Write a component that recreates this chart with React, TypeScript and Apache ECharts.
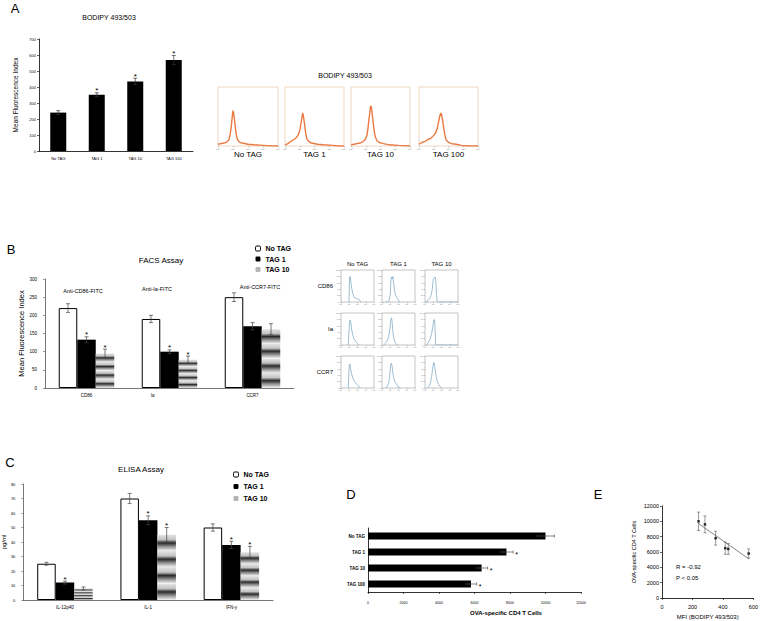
import React, { useEffect, useRef } from 'react';
import * as echarts from 'echarts';

const FONT = '"Liberation Sans", Arial, Helvetica, sans-serif';

// ---------- Panel A ----------
const aCategories = ['No TAG', 'TAG 1', 'TAG 10', 'TAG 100'];
const aValues = [240, 352, 435, 569];
const aErrors = [12, 12, 20, 28];
const aSig = [0, 1, 1, 1];

const aHistLabels = ['No TAG', 'TAG 1', 'TAG 10', 'TAG 100'];
const aHistNoTag = [[0, 3], [5, 4], [10, 5], [15, 7], [18, 10], [20, 18], [22, 32], [24, 52], [25, 60], [26, 56], [28, 40], [30, 22], [32, 12], [35, 7], [40, 5], [50, 3], [60, 2], [75, 1], [90, 0], [100, 0]];
const aHistTag1 = [[0, 2], [5, 4], [10, 8], [15, 11], [19, 14], [22, 18], [25, 26], [27, 38], [29, 50], [30, 56], [31, 52], [33, 38], [35, 22], [37, 12], [40, 8], [45, 5], [55, 3], [65, 2], [80, 1], [90, 0], [100, 0]];
const aHistTag10 = [[0, 2], [5, 3], [10, 4], [15, 5], [20, 7], [24, 11], [27, 18], [29, 32], [31, 50], [33, 66], [34, 68], [35, 62], [37, 45], [39, 28], [41, 16], [44, 9], [48, 6], [55, 4], [65, 2], [80, 1], [100, 0]];
const aHistTag100 = [[0, 3], [5, 6], [10, 8], [15, 11], [20, 13], [25, 18], [28, 22], [31, 30], [33, 40], [35, 50], [37, 56], [38, 54], [40, 44], [42, 30], [44, 18], [46, 10], [50, 6], [55, 4], [63, 3], [72, 1], [85, 0], [100, 0]];
const histTickLabels = ['10⁰', '10¹', '10²', '10³', '10⁴'];

// ---------- Panel B ----------
const bCategories = ['CD86', 'Ia', 'CCR7'];
const bSubtitles = ['Anti-CD86-FITC', 'Anti-Ia-FITC', 'Anti-CCR7-FITC'];
const bNoTag = [220, 190, 250];
const bTag1 = [133, 100, 170];
const bTag10 = [95, 78, 162];
const bNoTagErr = [12, 10, 12];
const bTag1Err = [8, 5, 10];
const bTag10Err = [12, 10, 15];
const bNoTagSig = [0, 0, 0];
const bTag1Sig = [1, 1, 0];
const bTag10Sig = [1, 1, 0];

const bHistCols = ['No TAG', 'TAG 1', 'TAG 10'];
const bHistRows = ['CD86', 'Ia', 'CCR7'];
const bHistCD86 = [
  [[24, 0], [25, 0], [26, 78], [28, 80], [30, 60], [33, 40], [36, 25], [40, 15], [45, 12], [50, 10], [55, 8], [58, 3], [60, 0]],
  [[12, 0], [18, 2], [22, 5], [25, 25], [27, 70], [29, 78], [31, 72], [33, 80], [35, 60], [38, 35], [42, 20], [46, 12], [50, 5], [55, 0]],
  [[5, 0], [10, 8], [14, 10], [18, 20], [22, 40], [25, 70], [28, 75], [31, 78], [33, 60], [35, 20], [37, 2], [40, 0], [100, 0]],
];
const bHistIa = [
  [[22, 0], [24, 0], [25, 60], [27, 78], [29, 75], [32, 50], [36, 30], [40, 18], [45, 10], [50, 5], [55, 0]],
  [[5, 0], [10, 5], [15, 12], [20, 25], [24, 50], [27, 80], [29, 85], [31, 70], [33, 40], [36, 20], [40, 8], [45, 0]],
  [[5, 0], [10, 8], [15, 18], [20, 35], [24, 60], [27, 80], [29, 78], [31, 40], [32, 5], [33, 0], [100, 0]],
];
const bHistCCR7 = [
  [[22, 0], [24, 0], [25, 72], [27, 75], [29, 60], [32, 45], [36, 30], [40, 22], [45, 15], [50, 10], [55, 5], [58, 0]],
  [[12, 0], [16, 5], [20, 15], [23, 35], [26, 70], [28, 78], [30, 72], [33, 45], [36, 30], [40, 18], [45, 10], [50, 3], [55, 0]],
  [[8, 0], [12, 5], [16, 15], [20, 35], [23, 60], [26, 80], [28, 78], [31, 55], [34, 35], [37, 22], [41, 12], [45, 5], [50, 0]],
];
const bHistYLabels = ['0', '20', '40', '60', '80', '100'];

// ---------- Panel C ----------
const cCategories = ['IL-12p40', 'IL-1', 'IFN-γ'];
const cNoTag = [25, 70, 50];
const cTag1 = [12, 55, 38];
const cTag10 = [8, 45, 33];
const cNoTagErr = [1, 3.5, 2.5];
const cTag1Err = [1, 3, 2.5];
const cTag10Err = [1, 5, 4];
const cNoTagSig = [0, 0, 0];
const cTag1Sig = [1, 1, 1];
const cTag10Sig = [0, 1, 1];

// ---------- Panel D ----------
const dCategories = ['No TAG', 'TAG 1', 'TAG 10', 'TAG 100'];
const dValues = [10000, 7800, 6400, 5800];
const dErrors = [500, 380, 340, 320];
const dSig = [0, 1, 1, 1];

// ---------- Panel E ----------
const eMFI = [240, 282, 352, 415, 435, 569];
const eOVA = [10000, 9600, 7800, 6500, 6400, 5800];
const eErrors = [1200, 1100, 900, 800, 700, 600];
const eFitX = [240, 570];
const eFitY = [9700, 5100];

function stripeGradient() {
  const band: [number, string][] = [[0, '#e4e4e4'], [0.3, '#c2c2c2'], [0.5, '#2a2a2a'], [0.72, '#8e8e8e'], [1, '#f6f6f6']];
  const n = 4;
  const stops: any[] = [];
  for (let i = 0; i < n; i++) {
    for (const [o, c] of band) stops.push({ offset: Math.min(1, (i + o) / n), color: c });
  }
  return new echarts.graphic.LinearGradient(0, 0, 0, 1, stops);
}

const plain = (v: number) => String(v);

function vErr(gridIdx: number, values: number[], errors: number[], sig: number[], barIndex: number, nBars: number, barW: number, color: string) {
  return {
    type: 'custom',
    xAxisIndex: gridIdx,
    yAxisIndex: gridIdx,
    z: 5,
    silent: true,
    data: values.map((v, i) => [i, v, errors[i], sig[i]]),
    renderItem: (params: any, api: any) => {
      const i = api.value(0), v = api.value(1), e = api.value(2), s = api.value(3);
      const base = api.coord([i, v]);
      const x = base[0] + (barIndex - (nBars - 1) / 2) * barW;
      const top = api.coord([i, v + e])[1];
      const bot = api.coord([i, v - e])[1];
      const cap = 2;
      const st = { stroke: color, lineWidth: 0.7 };
      const children: any[] = [
        { type: 'line', shape: { x1: x, y1: top, x2: x, y2: bot }, style: st },
        { type: 'line', shape: { x1: x - cap, y1: top, x2: x + cap, y2: top }, style: st },
        { type: 'line', shape: { x1: x - cap, y1: bot, x2: x + cap, y2: bot }, style: st },
      ];
      if (s) children.push({ type: 'text', x, y: top + 2, style: { text: '*', align: 'center', verticalAlign: 'bottom', fontSize: 8, fontFamily: FONT, fill: '#000' } });
      return { type: 'group', children };
    },
  };
}

function buildOption() {
  const grids: any[] = [];
  const xAxes: any[] = [];
  const yAxes: any[] = [];
  const series: any[] = [];
  const graphics: any[] = [];
  const txt = (text: string, x: number, y: number, size: number, align = 'center', weight = 'normal') =>
    graphics.push({ type: 'text', x, y, silent: true, style: { text, fontSize: size, fontFamily: FONT, fill: '#000', align, verticalAlign: 'middle', fontWeight: weight } });

  const blackAxis = { lineStyle: { color: '#000', width: 0.8 } };
  const grayAxis = { lineStyle: { color: '#555', width: 0.8 } };

  // ---- Panel A bar (grid 0)
  grids.push({ left: 39, top: 39, width: 154, height: 112 });
  xAxes.push({ gridIndex: 0, type: 'category', data: aCategories, axisLine: blackAxis, axisTick: { length: 2, lineStyle: { color: '#000', width: 0.6 } }, axisLabel: { fontSize: 4, margin: 5, color: '#000' } });
  yAxes.push({
    gridIndex: 0, type: 'value', min: 0, max: 700, interval: 100, name: 'Mean Fluorescence Index', nameLocation: 'middle', nameGap: 20,
    nameTextStyle: { fontSize: 6.5, color: '#000' }, axisLine: { show: true, ...blackAxis }, axisTick: { show: true, length: 2, lineStyle: { color: '#000', width: 0.6 } },
    axisLabel: { fontSize: 4, margin: 3, color: '#000', formatter: plain }, splitLine: { show: false },
  });
  series.push({ type: 'bar', xAxisIndex: 0, yAxisIndex: 0, data: aValues, barWidth: 16, itemStyle: { color: '#000' } });
  series.push(vErr(0, aValues, aErrors, aSig, 0, 1, 16, '#333'));

  // ---- Panel A histograms (grids 1-4)
  const aBoxes = [[218, 87, 60, 59], [285, 87, 59, 59], [351, 87, 59, 59], [419, 87, 59, 59]];
  const aHists = [aHistNoTag, aHistTag1, aHistTag10, aHistTag100];
  aBoxes.forEach((b, k) => {
    const gi = grids.length;
    grids.push({ left: b[0], top: b[1], width: b[2], height: b[3], show: true, borderColor: '#efd6bf', borderWidth: 1 });
    xAxes.push({
      gridIndex: gi, type: 'value', min: 0, max: 100, interval: 25, axisLine: { show: false }, splitLine: { show: false },
      axisTick: { show: true, length: 1.5, lineStyle: { color: '#999', width: 0.5 } },
      axisLabel: { fontSize: 2.5, margin: 2, color: '#666', formatter: (v: number) => histTickLabels[Math.round(v / 25)] },
    });
    yAxes.push({ gridIndex: gi, type: 'value', min: 0, max: 100, show: false });
    series.push({ type: 'line', xAxisIndex: gi, yAxisIndex: gi, data: aHists[k], showSymbol: false, lineStyle: { color: '#ea7a42', width: 1.4 } });
    txt(aHistLabels[k], b[0] + b[2] / 2, 154, 8);
  });

  // ---- Panel B bar (grid 5)
  const bGrid = grids.length;
  grids.push({ left: 45, top: 279, width: 249, height: 109 });
  xAxes.push({
    gridIndex: bGrid, type: 'category', data: bCategories, axisLine: grayAxis, axisTick: { length: 2, lineStyle: { color: '#555', width: 0.6 } },
    axisLabel: {
      fontSize: 4.5, margin: 5, color: '#000',
      formatter: (v: string) => (v === 'Ia' ? '{ia|' + v + '}' : v),
      rich: { ia: { fontSize: 4.5, padding: [0, 34, 0, 0] } },
    },
  });
  yAxes.push({
    gridIndex: bGrid, type: 'value', min: 0, max: 300, interval: 50, name: 'Mean Fluorescence Index', nameLocation: 'middle', nameGap: 18,
    nameTextStyle: { fontSize: 7.5, color: '#000' }, axisLine: { show: true, ...grayAxis }, axisTick: { show: true, length: 2, lineStyle: { color: '#555', width: 0.6 } },
    axisLabel: { fontSize: 4.5, margin: 8, color: '#000', formatter: plain }, splitLine: { show: false },
  });
  const bw = 18.5;
  series.push({ name: 'No TAG', type: 'bar', xAxisIndex: bGrid, yAxisIndex: bGrid, data: bNoTag, barWidth: bw, barGap: '0%', itemStyle: { color: '#fff', borderColor: '#000', borderWidth: 1 } });
  series.push({ name: 'TAG 1', type: 'bar', xAxisIndex: bGrid, yAxisIndex: bGrid, data: bTag1, barWidth: bw, barGap: '0%', itemStyle: { color: '#000' } });
  series.push({ name: 'TAG 10', type: 'bar', xAxisIndex: bGrid, yAxisIndex: bGrid, data: bTag10, barWidth: bw, barGap: '0%', itemStyle: { color: stripeGradient() } });
  series.push(vErr(bGrid, bNoTag, bNoTagErr, bNoTagSig, 0, 3, bw, '#444'));
  series.push(vErr(bGrid, bTag1, bTag1Err, bTag1Sig, 1, 3, bw, '#444'));
  series.push(vErr(bGrid, bTag10, bTag10Err, bTag10Sig, 2, 3, bw, '#444'));
  const bSubPos = [[83, 291], [157, 289], [260, 287]];
  bSubtitles.forEach((s, i) => txt(s, bSubPos[i][0], bSubPos[i][1], 5.5));

  // ---- Panel B histograms
  const bCols = [341, 382, 425];
  const bRows = [270, 313, 356];
  const bHists = [bHistCD86, bHistIa, bHistCCR7];
  bRows.forEach((ry, r) => {
    bCols.forEach((cx, c) => {
      const gi = grids.length;
      grids.push({ left: cx, top: ry, width: 33, height: 32, show: true, borderColor: '#b5b5b5', borderWidth: 0.8 });
      xAxes.push({
        gridIndex: gi, type: 'value', min: 0, max: 100, interval: 25, axisLine: { show: false }, splitLine: { show: false },
        axisTick: { show: true, length: 1.2, lineStyle: { color: '#999', width: 0.5 } },
        axisLabel: { fontSize: 2.2, margin: 1.5, color: '#777', formatter: (v: number) => histTickLabels[Math.round(v / 25)] },
      });
      yAxes.push({
        gridIndex: gi, type: 'value', min: 0, max: 100, interval: 20, axisLine: { show: false }, splitLine: { show: false },
        axisTick: { show: true, length: 1.2, lineStyle: { color: '#999', width: 0.5 } },
        axisLabel: { fontSize: 2.2, margin: 1.5, color: '#777', formatter: (v: number) => bHistYLabels[Math.round(v / 20)] },
      });
      series.push({ type: 'line', xAxisIndex: gi, yAxisIndex: gi, data: bHists[r][c], showSymbol: false, lineStyle: { color: '#86adc8', width: 0.8 } });
    });
    txt(bHistRows[r], 333, ry + 16, 6, 'right');
  });
  bHistCols.forEach((s, c) => txt(s, bCols[c] + 16.5, 264, 6));

  // ---- Panel C bar
  const cGrid = grids.length;
  grids.push({ left: 22, top: 484, width: 251, height: 116 });
  xAxes.push({ gridIndex: cGrid, type: 'category', data: cCategories, axisLine: grayAxis, axisTick: { length: 2, lineStyle: { color: '#555', width: 0.6 } }, axisLabel: { fontSize: 4.5, margin: 5, color: '#000' } });
  yAxes.push({
    gridIndex: cGrid, type: 'value', min: 0, max: 80, interval: 10, name: 'pg/ml', nameLocation: 'middle', nameGap: 14,
    nameTextStyle: { fontSize: 6, color: '#000' }, axisLine: { show: true, ...grayAxis }, axisTick: { show: true, length: 2, lineStyle: { color: '#555', width: 0.6 } },
    axisLabel: { fontSize: 4, margin: 8, color: '#000', formatter: plain }, splitLine: { show: false },
  });
  series.push({ name: 'No TAG', type: 'bar', xAxisIndex: cGrid, yAxisIndex: cGrid, data: cNoTag, barWidth: bw, barGap: '0%', itemStyle: { color: '#fff', borderColor: '#000', borderWidth: 1 } });
  series.push({ name: 'TAG 1', type: 'bar', xAxisIndex: cGrid, yAxisIndex: cGrid, data: cTag1, barWidth: bw, barGap: '0%', itemStyle: { color: '#000' } });
  series.push({ name: 'TAG 10', type: 'bar', xAxisIndex: cGrid, yAxisIndex: cGrid, data: cTag10, barWidth: bw, barGap: '0%', itemStyle: { color: stripeGradient() } });
  series.push(vErr(cGrid, cNoTag, cNoTagErr, cNoTagSig, 0, 3, bw, '#444'));
  series.push(vErr(cGrid, cTag1, cTag1Err, cTag1Sig, 1, 3, bw, '#444'));
  series.push(vErr(cGrid, cTag10, cTag10Err, cTag10Sig, 2, 3, bw, '#444'));

  // ---- Panel D
  const dGrid = grids.length;
  grids.push({ left: 368, top: 528, width: 213, height: 64 });
  xAxes.push({
    gridIndex: dGrid, type: 'value', min: 0, max: 12000, interval: 2000, name: 'OVA-specific CD4 T Cells', nameLocation: 'middle', nameGap: 18,
    nameTextStyle: { fontSize: 6, fontWeight: 'bold', color: '#000', padding: [0, 0, 0, 63] }, axisLine: { show: true, ...blackAxis },
    axisTick: { show: true, length: 2, lineStyle: { color: '#000', width: 0.6 } }, axisLabel: { fontSize: 3.5, margin: 9, color: '#000', formatter: plain }, splitLine: { show: false },
  });
  yAxes.push({ gridIndex: dGrid, type: 'category', inverse: true, data: dCategories, axisLine: blackAxis, axisTick: { length: 2, lineStyle: { color: '#000', width: 0.6 } }, axisLabel: { fontSize: 4.5, margin: 3, color: '#000', fontWeight: 'bold' } });
  series.push({ type: 'bar', xAxisIndex: dGrid, yAxisIndex: dGrid, data: dValues, barWidth: 7, itemStyle: { color: '#000' } });
  series.push({
    type: 'custom', xAxisIndex: dGrid, yAxisIndex: dGrid, z: 5, silent: true,
    data: dValues.map((v, i) => [v, i, dErrors[i], dSig[i]]),
    renderItem: (params: any, api: any) => {
      const v = api.value(0), i = api.value(1), e = api.value(2), s = api.value(3);
      const y = api.coord([v, i])[1];
      const r = api.coord([v + e, i])[0];
      const l = api.coord([v - e, i])[0];
      const st = { stroke: '#555', lineWidth: 0.7 };
      const children: any[] = [
        { type: 'line', shape: { x1: l, y1: y, x2: r, y2: y }, style: st },
        { type: 'line', shape: { x1: r, y1: y - 1.5, x2: r, y2: y + 1.5 }, style: st },
      ];
      if (s) children.push({ type: 'text', x: r + 2, y: y + 2, style: { text: '*', align: 'left', verticalAlign: 'middle', fontSize: 7, fontFamily: FONT, fill: '#000' } });
      return { type: 'group', children };
    },
  });

  // ---- Panel E
  const eGrid = grids.length;
  grids.push({ left: 662, top: 506, width: 92, height: 92 });
  xAxes.push({
    gridIndex: eGrid, type: 'value', min: 0, max: 600, interval: 200, name: 'MFI (BODIPY 493/503)', nameLocation: 'middle', nameGap: 16,
    nameTextStyle: { fontSize: 6, color: '#000' }, axisLine: { show: true, ...blackAxis }, axisTick: { show: true, length: 2, lineStyle: { color: '#000', width: 0.6 } },
    axisLabel: { fontSize: 5.5, margin: 6, color: '#000', formatter: plain }, splitLine: { show: false },
  });
  yAxes.push({
    gridIndex: eGrid, type: 'value', min: 0, max: 12000, interval: 2000, name: 'OVA-specific CD4 T Cells', nameLocation: 'middle', nameGap: 25,
    nameTextStyle: { fontSize: 5.5, color: '#000' }, axisLine: { show: true, ...blackAxis }, axisTick: { show: true, length: 2, lineStyle: { color: '#000', width: 0.6 } },
    axisLabel: { fontSize: 5.5, margin: 3, color: '#000', formatter: plain }, splitLine: { show: false },
  });
  series.push({ type: 'line', xAxisIndex: eGrid, yAxisIndex: eGrid, data: eFitX.map((x, i) => [x, eFitY[i]]), showSymbol: false, lineStyle: { color: '#666', width: 0.8 } });
  series.push({
    type: 'custom', xAxisIndex: eGrid, yAxisIndex: eGrid, z: 5, silent: true,
    data: eMFI.map((x, i) => [x, eOVA[i], eErrors[i]]),
    renderItem: (params: any, api: any) => {
      const x = api.value(0), y = api.value(1), e = api.value(2);
      const p = api.coord([x, y]);
      const top = api.coord([x, y + e])[1];
      const bot = api.coord([x, y - e])[1];
      const st = { stroke: '#555', lineWidth: 0.6 };
      return {
        type: 'group', children: [
          { type: 'line', shape: { x1: p[0], y1: top, x2: p[0], y2: bot }, style: st },
          { type: 'line', shape: { x1: p[0] - 1.5, y1: top, x2: p[0] + 1.5, y2: top }, style: st },
          { type: 'line', shape: { x1: p[0] - 1.5, y1: bot, x2: p[0] + 1.5, y2: bot }, style: st },
        ],
      };
    },
  });
  series.push({ type: 'scatter', xAxisIndex: eGrid, yAxisIndex: eGrid, data: eMFI.map((x, i) => [x, eOVA[i]]), symbol: 'rect', symbolSize: 2.5, itemStyle: { color: '#000' }, z: 6 });

  // ---- Texts
  txt('A', 15, 8, 13);
  txt('BODIPY 493/503', 109, 17, 7);
  txt('BODIPY 493/503', 345, 75, 7);
  txt('B', 11, 249, 13);
  txt('FACS Assay', 161, 260, 8);
  txt('C', 10, 462, 13);
  txt('ELISA Assay', 141, 469, 8);
  txt('D', 351, 494, 13);
  txt('E', 598, 494, 13);
  txt('R = -0.92', 676, 567, 6, 'left');
  txt('P < 0.05', 676, 578, 6, 'left');

  const legendData = [
    { name: 'No TAG', itemStyle: { color: '#fff', borderColor: '#000', borderWidth: 1 } },
    { name: 'TAG 1', itemStyle: { color: '#000' } },
    { name: 'TAG 10', itemStyle: { color: '#b4b4b4' } },
  ];

  return {
    animation: false,
    backgroundColor: '#fff',
    textStyle: { fontFamily: FONT },
    grid: grids,
    xAxis: xAxes,
    yAxis: yAxes,
    series,
    legend: [
      { left: 250, top: 240, orient: 'vertical', itemWidth: 5, itemHeight: 5, itemGap: 3.5, selectedMode: false, data: legendData, textStyle: { fontSize: 7, fontWeight: 'bold', color: '#000' } },
      { left: 228, top: 466, orient: 'vertical', itemWidth: 5, itemHeight: 5, itemGap: 5, selectedMode: false, data: legendData, textStyle: { fontSize: 7, fontWeight: 'bold', color: '#000' } },
    ],
    graphic: graphics,
  };
}

export default function App() {
  const ref = useRef<HTMLDivElement>(null);
  useEffect(() => {
    const chart = echarts.init(ref.current!, null, { renderer: 'svg' });
    chart.setOption(buildOption() as any);
    return () => chart.dispose();
  }, []);
  return <div ref={ref} style={{ position: 'absolute', left: 0, top: 0, width: 761, height: 621, background: '#fff' }} />;
}
